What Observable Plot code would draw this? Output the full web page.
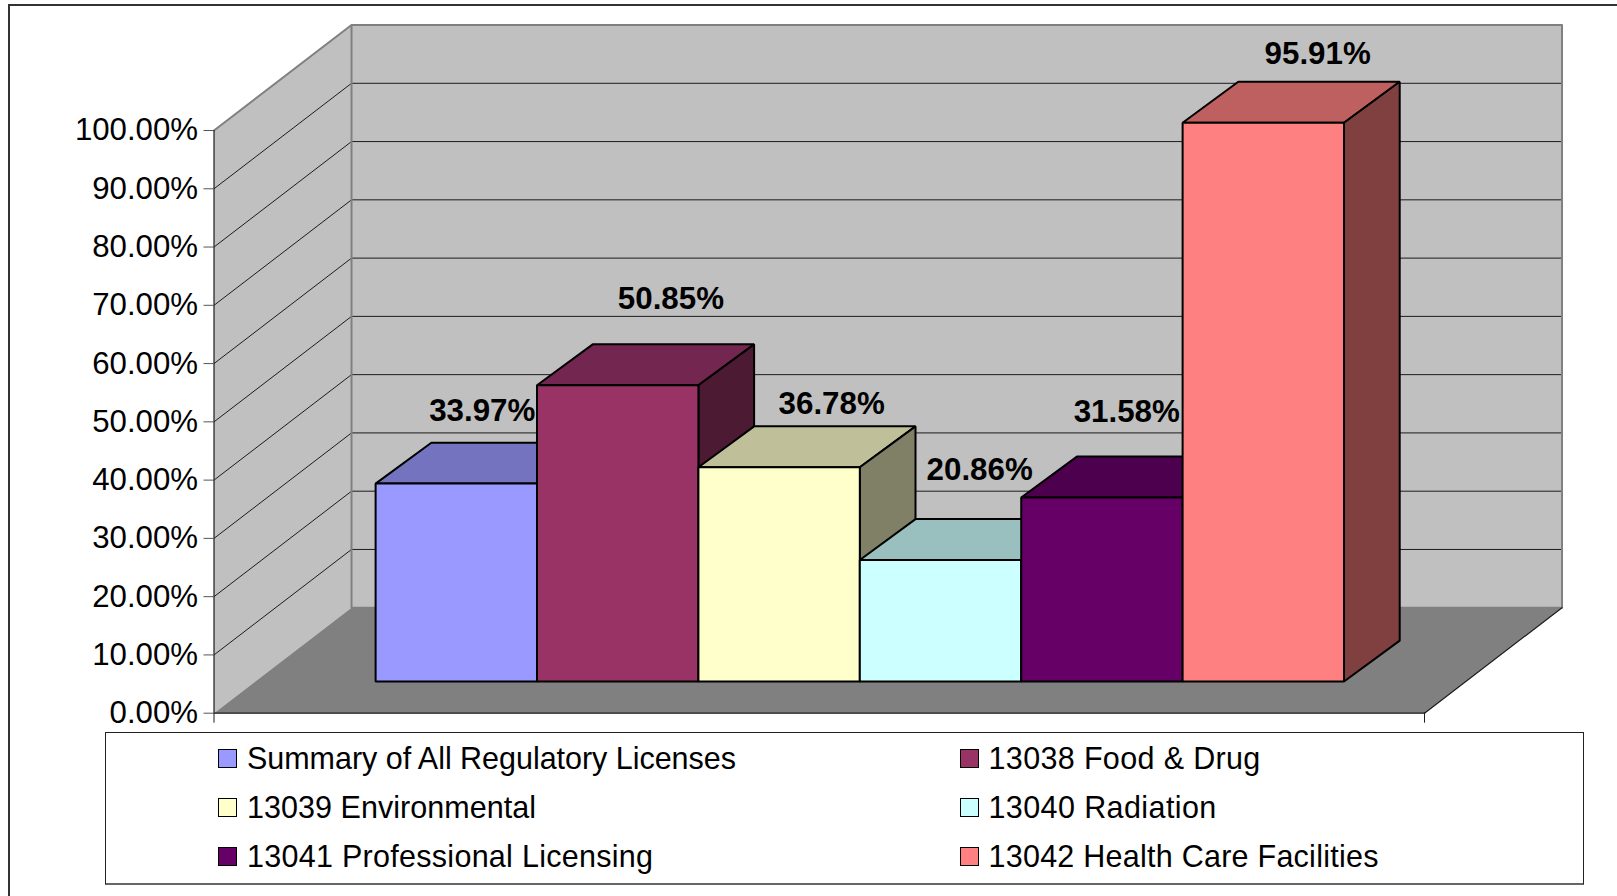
<!DOCTYPE html>
<html>
<head>
<meta charset="utf-8">
<script src="https://cdn.jsdelivr.net/npm/d3@7"></script>
<script src="https://cdn.jsdelivr.net/npm/@observablehq/plot@0.6"></script>
<style>
  html, body { margin: 0; background: #fff; overflow: hidden; }
  #page { position: relative; width: 1617px; height: 896px; font-family: "Liberation Sans", Arial, sans-serif; color: #000; }
  #page svg { display: block; }
  .frame-top { position: absolute; left: 8px; top: 4px; right: 0; height: 2px; background: #333; }
  .frame-left { position: absolute; left: 8px; top: 4px; bottom: 0; width: 1.5px; background: #333; }
  #legend {
    position: relative; box-sizing: border-box;
    margin-left: 105px; width: 1479px; height: 153px;
    border: 1px solid #222; border-bottom: 2px solid #666;
    display: grid; grid-template-columns: 741.5px 1fr; grid-auto-rows: 49px;
    padding: 1px 0 0 112px; font-size: 30.5px; align-items: center;
  }
  .entry { display: flex; align-items: center; white-space: nowrap; }
  .swatch { box-sizing: border-box; width: 19px; height: 19px; border: 1.5px solid #000; margin-right: 10px; }
</style>
</head>
<body>
<div id="page">
  <div class="frame-top"></div>
  <div class="frame-left"></div>
  <div id="chart"></div>
  <div id="legend"></div>
</div>
<script>
// Share of each licensing programme, in percent
const series = [
  "Summary of All Regulatory Licenses",
  "13038 Food & Drug",
  "13039 Environmental",
  "13040 Radiation",
  "13041 Professional Licensing",
  "13042 Health Care Facilities"
];
const values = [33.97, 50.85, 36.78, 20.86, 31.58, 95.91];

const frontColors = ["#9999FF", "#993366", "#FFFFCC", "#CCFFFF", "#660066", "#FF8080"];
const topColors   = ["#7373BF", "#732650", "#BFBF99", "#99BFBF", "#4D004D", "#BF6060"];
const sideColors  = ["#4D4D80", "#4D1A33", "#808066", "#668080", "#330033", "#804040"];

const yTicks = d3.range(0, 101, 10);

// Value labels: where each one sits, in bar widths and percentage points
const labelX = [1.662, 2.831, 3.827, 4.744, 5.655, 6.838];
const labelY = [51.85, 71.16, 53.0, 41.82, 51.77, 113.1];

// Extra tracking on the legend entries, in pixels
const legendTracking = [-0.03, 0.35, 0.05, 0.4, 0.28, 0.25];

// Oblique projection: depth shifts a point right and up on the page
const depthX = 0.852;   // bar widths
const depthY = 18.1;    // percentage points
const floorWidth = 7.5; // six bars plus 0.75 of a bar on either side
const barFront = [0.295, 0.3];  // depth of the front face, across and up
const barBack = [0.7, 0.688];   // depth of the back edge, across and up

const project = (x, v, d) => {
  const [across, up] = Array.isArray(d) ? d : [d, d];
  return {x: x + across * depthX, y: v + up * depthY};
};
const polygon = (id, color, corners) =>
  corners.map(([x, v, d]) => ({id, color, ...project(x, v, d)}));

const wallTop = 100;
const sideWall = polygon("side", "#C0C0C0", [[0, 0, 0], [0, 0, 1], [0, wallTop, 1], [0, wallTop, 0]]);
const backWall = polygon("back", "#C0C0C0", [[0, 0, 1], [floorWidth, 0, 1], [floorWidth, wallTop, 1], [0, wallTop, 1]]);
const floor = polygon("floor", "#808080", [[0, 0, 0], [floorWidth, 0, 0], [floorWidth, 0, 1], [0, 0, 1]]);

// Gridlines run along the side wall, then across the back wall
const gridlines = yTicks.filter(t => t > 0 && t < 100).flatMap(t =>
  [[0, t, 0], [0, t, 1], [floorWidth, t, 1]].map(([x, v, d]) => ({id: t, ...project(x, v, d)})));

// Each bar has three visible faces, painted left to right so neighbours overlap
const barFaces = values.flatMap((v, i) => {
  const x0 = 0.75 + i, x1 = x0 + 1;
  return [
    ...polygon(`top${i}`, topColors[i], [[x0, v, barFront], [x1, v, barFront], [x1, v, barBack], [x0, v, barBack]]),
    ...polygon(`side${i}`, sideColors[i], [[x1, 0, barFront], [x1, 0, barBack], [x1, v, barBack], [x1, v, barFront]]),
    ...polygon(`front${i}`, frontColors[i], [[x0, 0, barFront], [x1, 0, barFront], [x1, v, barFront], [x0, v, barFront]])
  ];
});

const labels = values.map((v, i) => ({x: labelX[i], y: labelY[i], text: v.toFixed(2) + "%"}));

const floorEdge = [
  {id: "front", ...project(0, 0, 0)}, {id: "front", ...project(floorWidth, 0, 0)},
  {id: "right", ...project(floorWidth, 0, 0)}, {id: "right", ...project(floorWidth, 0, 1)}
];
const wallEdge = [
  {id: "top", ...project(0, wallTop, 0)}, {id: "top", ...project(0, wallTop, 1)},
  {id: "top", ...project(floorWidth, wallTop, 1)}, {id: "top", ...project(floorWidth, 0, 1)},
  {id: "top", ...project(0, 0, 1)}, {id: "top", ...project(0, wallTop, 1)}
];

const face = (rows, options) => Plot.line(rows, {
  x: "x", y: "y", z: "id", fill: "color", curve: "linear-closed", ...options
});

const chart = Plot.plot({
  width: 1617,
  height: 732,
  marginLeft: 213.5,
  marginRight: 193,
  marginTop: 130,
  marginBottom: 19.3,
  x: {domain: [0, floorWidth], range: [213.5, 1424], label: null},
  y: {domain: [0, 100], range: [712.7, 130], label: null},
  color: {type: "identity"},
  style: {background: "transparent", fontFamily: "Liberation Sans, Arial, sans-serif", overflow: "visible"},
  marks: [
    face(backWall, {stroke: "none"}),
    face(sideWall, {stroke: "none"}),
    Plot.line(gridlines, {x: "x", y: "y", z: "id", stroke: "#1c1c1c", strokeWidth: 1}),
    face(floor, {stroke: "none"}),
    Plot.line(wallEdge, {x: "x", y: "y", z: "id", stroke: "#808080", strokeWidth: 2}),
    Plot.line(floorEdge, {x: "x", y: "y", z: "id", stroke: "#1c1c1c", strokeWidth: 1.2}),
    Plot.ruleX([0], {y1: 0, y2: 100, stroke: "#1c1c1c", strokeWidth: 1.2}),
    Plot.axisY({
      ticks: yTicks, tickFormat: d => d.toFixed(2) + "%", tickSize: 10, tickPadding: 6,
      label: null, fontSize: 31.2, stroke: "#555"
    }),
    Plot.axisX({ticks: [0, floorWidth], tickFormat: () => "", tickSize: 10, label: null, stroke: "#1c1c1c"}),
    face(barFaces, {stroke: "#000", strokeWidth: 2, strokeLinejoin: "miter"}),
    Plot.text(labels, {
      x: "x", y: "y", text: "text", fontSize: 31.3, fontWeight: "bold", fill: "#000"
    })
  ]
});
document.getElementById("chart").append(chart);

const legend = document.getElementById("legend");
series.forEach((name, i) => {
  const entry = document.createElement("div");
  entry.className = "entry";
  entry.style.letterSpacing = `${legendTracking[i]}px`;
  const swatch = document.createElement("span");
  swatch.className = "swatch";
  swatch.style.background = frontColors[i];
  entry.append(swatch, document.createTextNode(name));
  legend.append(entry);
});
</script>
</body>
</html>
